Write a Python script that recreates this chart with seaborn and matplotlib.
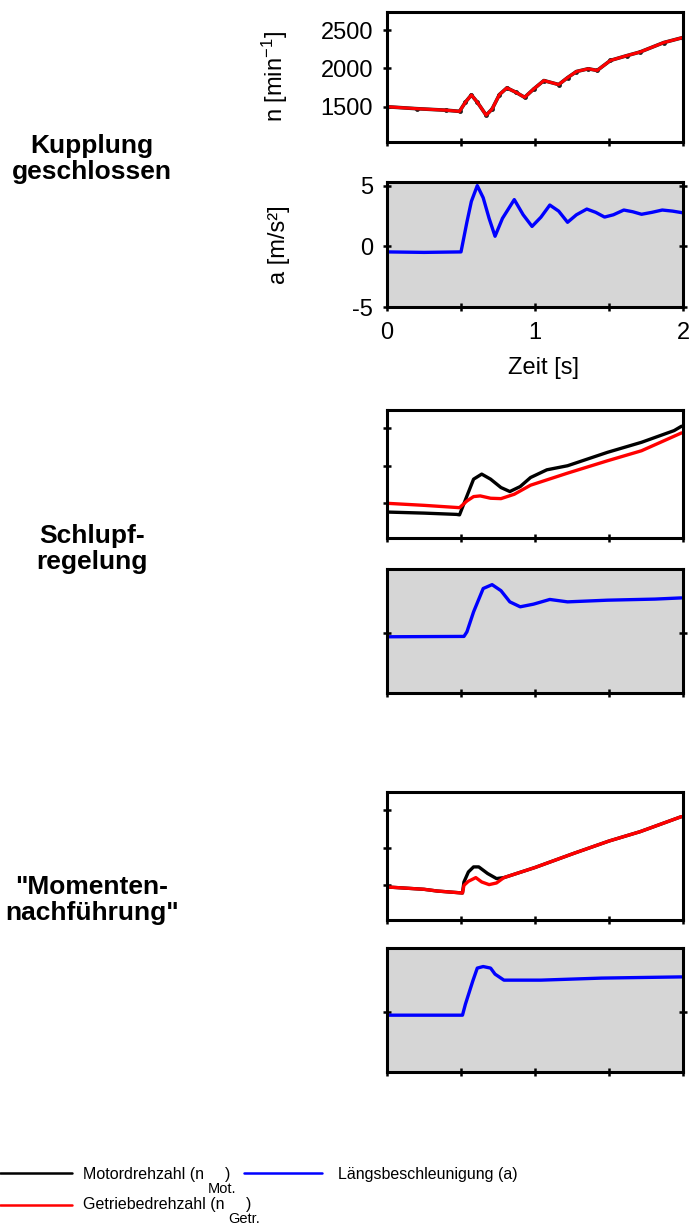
import matplotlib
matplotlib.use("Agg")
import matplotlib.pyplot as plt
from matplotlib.lines import Line2D
from matplotlib import font_manager
import seaborn as sns
import numpy as np

sns.set_theme(style="white")
plt.rcParams['font.family'] = ['Liberation Sans', 'DejaVu Sans']
plt.rcParams['mathtext.default'] = 'regular'
plt.rcParams['axes.unicode_minus'] = False

# --- data ------------------------------------------------------------------
# Kupplung geschlossen: engine and gearbox speed coincide
t_closed_n = [0, 0.2, 0.4, 0.49, 0.53, 0.57, 0.61, 0.67, 0.71, 0.76, 0.81, 0.87,
              0.93, 0.99, 1.06, 1.16, 1.22, 1.28, 1.36, 1.42, 1.51, 1.62, 1.71, 1.87, 2.0]
n_closed = [1500, 1475, 1455, 1440, 1560, 1654, 1560, 1390, 1470, 1660, 1746, 1690,
            1623, 1730, 1842, 1790, 1880, 1960, 1996, 1974, 2105, 2167, 2215, 2338, 2404]
t_closed_a = [0, 0.25, 0.5, 0.54, 0.57, 0.61, 0.65, 0.69, 0.73, 0.78, 0.86, 0.92, 0.98,
              1.04, 1.10, 1.16, 1.22, 1.28, 1.35, 1.41, 1.47, 1.53, 1.60, 1.66, 1.72,
              1.79, 1.86, 1.93, 2.0]
a_closed = [-0.46, -0.5, -0.46, 2.0, 3.7, 5.0, 4.0, 2.3, 0.83, 2.3, 3.85, 2.6, 1.64,
            2.4, 3.4, 2.9, 1.98, 2.6, 3.07, 2.8, 2.41, 2.6, 2.99, 2.85, 2.64,
            2.8, 2.99, 2.9, 2.76]

# Schlupfregelung
t_slip_mot = [0, 0.25, 0.47, 0.49, 0.54, 0.585, 0.64, 0.70, 0.77, 0.83, 0.90, 0.97,
              1.08, 1.22, 1.49, 1.72, 1.94, 1.99]
n_slip_mot = [1384, 1370, 1353, 1347, 1597, 1820, 1887, 1820, 1709, 1656, 1722, 1842,
              1944, 1998, 2176, 2309, 2464, 2522]
t_slip_getr = [0, 0.25, 0.49, 0.54, 0.585, 0.63, 0.70, 0.77, 0.86, 0.97, 1.22, 1.49,
               1.72, 1.99]
n_slip_getr = [1500, 1473, 1442, 1531, 1589, 1598, 1567, 1562, 1620, 1740, 1900, 2064,
               2197, 2433]
t_slip_a = [0, 0.52, 0.54, 0.585, 0.65, 0.71, 0.77, 0.83, 0.90, 0.99, 1.10, 1.22,
            1.49, 1.81, 1.99]
a_slip = [-0.33, -0.3, 0.08, 1.74, 3.68, 4.0, 3.5, 2.57, 2.16, 2.38, 2.77, 2.57,
          2.71, 2.8, 2.9]

# "Momentennachführung"
t_mom_mot = [0, 0.25, 0.34, 0.51, 0.52, 0.55, 0.585, 0.62, 0.68, 0.74, 0.79, 1.0,
             1.26, 1.50, 1.71, 1.99]
n_mom_mot = [1478, 1447, 1424, 1398, 1544, 1677, 1744, 1744, 1656, 1589, 1602, 1736,
             1922, 2087, 2211, 2411]
t_mom_getr = [0, 0.25, 0.34, 0.51, 0.52, 0.55, 0.60, 0.64, 0.69, 0.74, 0.79, 1.0,
              1.26, 1.50, 1.71, 1.99]
n_mom_getr = [1478, 1447, 1424, 1398, 1500, 1553, 1602, 1544, 1509, 1531, 1602, 1736,
              1922, 2087, 2211, 2411]
t_mom_a = [0, 0.51, 0.53, 0.58, 0.61, 0.65, 0.70, 0.73, 0.79, 1.04, 1.45, 1.99]
a_mom = [-0.28, -0.28, 0.64, 2.57, 3.63, 3.76, 3.63, 3.13, 2.63, 2.63, 2.8, 2.9]

row_titles = ["Kupplung\ngeschlossen", "Schlupf-\nregelung", "\"Momenten-\nnachführung\""]
n_ticks = [1500, 2000, 2500]
a_ticks = [-5, 0, 5]

# --- figure ---------------------------------------------------------------
W, H = 694, 1227
fig = plt.figure(figsize=(W / 100, H / 100), dpi=100)
fig.patch.set_facecolor('white')


def px_axes(top, bottom, left=387, right=683):
    return fig.add_axes([left / W, 1 - bottom / H, (right - left) / W, (bottom - top) / H])


def style(ax, ylim, yticks, gray, labels):
    ax.set_xlim(0, 2)
    ax.set_ylim(*ylim)
    ax.set_facecolor('#d6d6d6' if gray else 'white')
    for s in ax.spines.values():
        s.set_visible(True)
        s.set_color('black')
        s.set_linewidth(2.2)
    ax.set_xticks([0, 1, 2])
    ax.set_xticks([0.5, 1.5], minor=True)
    ax.set_yticks(yticks)
    ax.tick_params(which='both', axis='x', direction='inout', length=6, width=1.8,
                   color='black', bottom=True, labelsize=17, pad=8, labelcolor='black')
    ax.tick_params(axis='y', direction='inout', length=6, width=1.8, color='black',
                   left=True, labelsize=17, pad=7, labelcolor='black')
    if not labels:
        ax.set_xticklabels([])
        ax.set_yticklabels([])
    ax.set_xlabel('')
    ax.set_ylabel('')
    ax.grid(False)


n_lim = (1040, 2737)
a_lim = (-5, 5.3)

boxes = [(12, 142, 182, 307), (410, 538, 569, 693), (792, 920, 948, 1072)]
n_data = [
    (t_closed_n, n_closed, t_closed_n, n_closed),
    (t_slip_mot, n_slip_mot, t_slip_getr, n_slip_getr),
    (t_mom_mot, n_mom_mot, t_mom_getr, n_mom_getr),
]
a_data = [(t_closed_a, a_closed), (t_slip_a, a_slip), (t_mom_a, a_mom)]

for i, (nt, nb, at, ab) in enumerate(boxes):
    ax_n = px_axes(nt, nb)
    tm, nm, tg, ng = n_data[i]
    if i == 0:
        sns.lineplot(x=tm, y=nm, ax=ax_n, color='#202020', linewidth=2.6,
                     marker='o', markersize=3.5, markeredgewidth=0, estimator=None)
    else:
        sns.lineplot(x=tm, y=nm, ax=ax_n, color='black', linewidth=2.4, estimator=None)
    sns.lineplot(x=tg, y=ng, ax=ax_n, color='#ff0000', linewidth=2.2 if i == 0 else 2.4,
                 estimator=None)
    style(ax_n, n_lim, n_ticks, False, i == 0)

    ax_a = px_axes(at, ab)
    ta, aa = a_data[i]
    sns.lineplot(x=ta, y=aa, ax=ax_a, color='#0000ff', linewidth=2.4, estimator=None)
    style(ax_a, a_lim, a_ticks, True, i == 0)
    ax_a.tick_params(axis='y', right=True)
    if i != 0:
        ax_a.set_yticks([0])
        ax_a.set_yticklabels([])
    else:
        ax_a.set_xticklabels(['0', '1', '2'])
        ax_n.set_xticklabels([])
        ax_a.set_xlabel('Zeit [s]', fontsize=17, color='black')
        ax_a.xaxis.set_label_coords(0.53, -0.40)
        ax_n.set_ylabel('n [min$^{-1}$]', fontsize=17, color='black')
        ax_n.yaxis.set_label_coords(-0.328, 0.5)
        ax_a.set_ylabel('a [m/s²]', fontsize=17, color='black')
        ax_a.yaxis.set_label_coords(-0.328, 0.5)

# row titles
for title, yc in zip(row_titles, [159, 549, 900]):
    fig.text(92 / W, 1 - yc / H, title, ha='center', va='center', fontsize=19,
             fontweight='bold', linespacing=1.15, color='black')

# legend drawn by hand, like the original
names = {f.name for f in font_manager.fontManager.ttflist}
if 'Liberation Sans Narrow' in names:
    leg_family = ['Liberation Sans Narrow', 'Liberation Sans']
    leg_size, sub_size = 13.5, 12
else:
    leg_family = ['Liberation Sans', 'DejaVu Sans']
    leg_size, sub_size = 11.5, 10.5


def fig_line(x0, x1, y, color):
    fig.add_artist(Line2D([x0 / W, x1 / W], [1 - y / H, 1 - y / H], color=color,
                          linewidth=1.8, transform=fig.transFigure))


def fig_txt(x, y, s, size):
    fig.text(x / W, 1 - y / H, s, ha='left', va='center', fontsize=size, color='black',
             family=leg_family)


fig_line(0, 72, 1173, 'black')
fig_line(244, 322, 1173, '#0000ff')
fig_line(0, 72, 1205, '#ff0000')
fig_txt(83, 1174, 'Motordrehzahl (n', leg_size)
fig_txt(208, 1189, 'Mot.', sub_size)
fig_txt(225, 1174, ')', leg_size)
fig_txt(338, 1174, 'Längsbeschleunigung (a)', leg_size)
fig_txt(83, 1205, 'Getriebedrehzahl (n', leg_size)
fig_txt(228, 1219, 'Getr.', sub_size)
fig_txt(246, 1205, ')', leg_size)

fig.savefig('out.png', dpi=100, facecolor='white')
